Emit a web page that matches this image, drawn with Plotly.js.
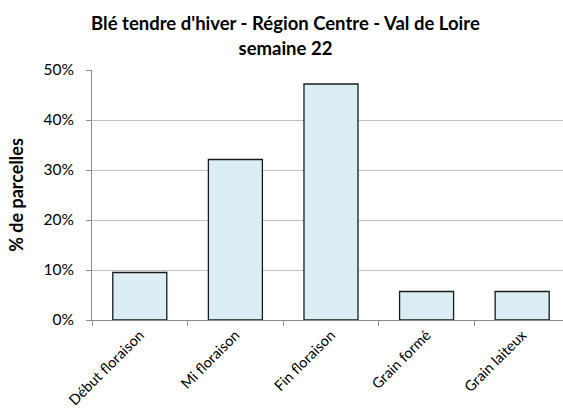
<!DOCTYPE html>
<html><head><meta charset="utf-8">
<script src="https://cdn.plot.ly/plotly-3.0.1.min.js"></script>
<style>html,body{margin:0;padding:0;background:#fff}#c{width:563px;height:412px}</style>
</head><body><div id="c"></div>
<script>
var categories = ["Début floraison", "Mi floraison", "Fin floraison", "Grain formé", "Grain laiteux"];
var values = [9.5, 32.1, 47.2, 5.7, 5.7];
var yTicks = [0, 10, 20, 30, 40, 50];
var yTickLabels = ["0%", "10%", "20%", "30%", "40%", "50%"];

var font = "Lato, Carlito, Calibri, sans-serif";
Plotly.newPlot("c", [{
  type: "bar", x: categories, y: values,
  marker: {color: "#DBEEF4", line: {color: "#1a1a1a", width: 1.3}},
  hoverinfo: "skip"
}], {
  width: 563, height: 412,
  margin: {l: 92, r: 0, t: 70, b: 92},
  paper_bgcolor: "#fff", plot_bgcolor: "#fff",
  bargap: 0.435,
  showlegend: false,
  title: {text: "<b>Blé tendre d'hiver - Région Centre - Val de Loire<br>semaine 22</b>",
    font: {family: font, size: 18.5, color: "#000"}, x: 0.507, xanchor: "center",
    xref: "container", y: 0.926, yref: "container", yanchor: "middle"},
  xaxis: {
    range: [-0.5, 4.427], tickson: "boundaries", ticks: "outside", ticklen: 5, tickcolor: "#8c8c8c",
    showline: true, linecolor: "#8c8c8c", linewidth: 1, showgrid: false,
    tickangle: -45, tickfont: {family: font, size: 14.5, color: "#000"}, fixedrange: true
  },
  yaxis: {
    range: [0, 50], tickvals: yTicks, ticktext: yTickLabels,
    ticks: "outside", ticklen: 5, tickcolor: "#8c8c8c", ticklabelstandoff: 9,
    showline: true, linecolor: "#8c8c8c", linewidth: 1,
    showgrid: true, gridcolor: "#bfbfbf", gridwidth: 1, zeroline: false,
    tickfont: {family: font, size: 15.5, color: "#000"},
    title: {text: "<b>% de parcelles</b>", font: {family: font, size: 18, color: "#000"}, standoff: 15},
    fixedrange: true
  }
}, {displayModeBar: false, staticPlot: true});
</script></body></html>
